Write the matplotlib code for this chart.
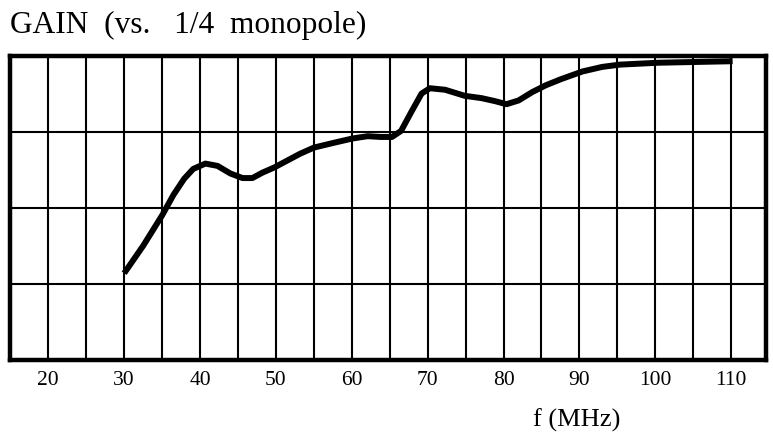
import matplotlib
matplotlib.use("Agg")
import matplotlib.pyplot as plt
from matplotlib.ticker import MultipleLocator

# Frequency (MHz) and relative gain (grid units, 0-4)
freq = [30, 32.5, 35.0, 36.5, 37.9, 39.1, 40.7, 42.3, 44.0, 45.6, 46.9,
        48.2, 49.8, 51.5, 53.2, 55.0, 57.5, 60.1, 62.1, 63.8, 65.3, 66.5,
        67.8, 69.2, 70.3, 72.3, 74.9, 77.1, 78.9, 80.4, 82.0, 83.8, 85.6,
        87.6, 90.4, 93.0, 95.3, 100.4, 105.3, 110.2]
gain = [1.14, 1.50, 1.90, 2.17, 2.38, 2.51, 2.58, 2.55, 2.45, 2.39, 2.39,
        2.46, 2.53, 2.62, 2.71, 2.79, 2.85, 2.91, 2.94, 2.93, 2.93, 3.01,
        3.25, 3.50, 3.57, 3.55, 3.47, 3.44, 3.40, 3.36, 3.41, 3.52, 3.61,
        3.69, 3.79, 3.85, 3.88, 3.905, 3.915, 3.925]

xticks = [20, 30, 40, 50, 60, 70, 80, 90, 100, 110]
title_text = "GAIN  (vs.   1/4  monopole)"
xlabel_text = "f (MHz)"

plt.rcParams['font.family'] = ['Liberation Serif', 'DejaVu Serif']

fig = plt.figure(figsize=(7.73, 4.35), dpi=100)
ax = fig.add_axes([10/773, (435-361)/435, (766-10)/773, (361-56.5)/435])

ax.plot(freq, gain, color='black', lw=4.3, solid_joinstyle='round',
        solid_capstyle='butt', zorder=3)

ax.set_xlim(14.95, 114.6)
ax.set_ylim(0, 4)
ax.xaxis.set_minor_locator(MultipleLocator(5))
ax.set_xticks(xticks)
ax.set_xticklabels([str(t) for t in xticks], fontsize=15.5)
ax.set_yticks([1, 2, 3])
ax.set_yticklabels([])
ax.tick_params(axis='both', which='both', length=0)
ax.tick_params(axis='x', pad=7)
ax.grid(True, which='both', axis='x', color='black', lw=1.5)
ax.grid(True, which='major', axis='y', color='black', lw=1.5)
for s in ax.spines.values():
    s.set_linewidth(3.2)
    s.set_color('black')

fig.text(10/773, 1 - 33/435, title_text, fontsize=22.6, ha='left', va='baseline')
fig.text(577/773, 1 - 427/435, xlabel_text, fontsize=19, ha='center', va='baseline')

fig.savefig("out.png", dpi=100)
